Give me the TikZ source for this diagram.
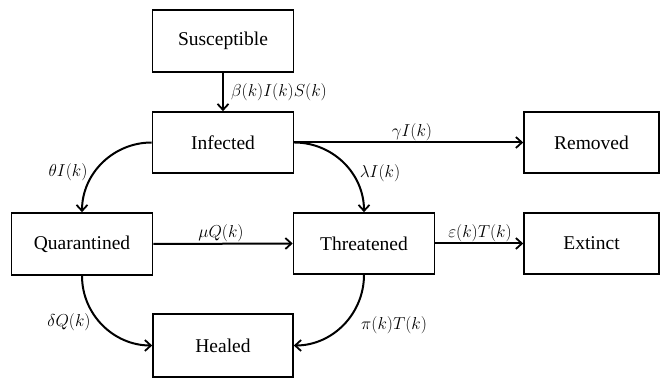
\documentclass[tikz,border=0pt]{standalone}
\usepackage{fontspec}
\setmainfont{Liberation Serif}
\usetikzlibrary{arrows.meta}
\begin{document}
\begin{tikzpicture}[x=1pt,y=1pt,
  box/.style={draw, line width=1.6pt, minimum width=141pt, minimum height=61pt, inner sep=0pt, font=\fontsize{19.5}{23}\selectfont},
  arr/.style={line width=2pt, -{Straight Barb[length=6pt,width=11pt,line width=1.8pt]}},
  lbl/.style={font=\fontsize{16.8}{20}\selectfont, inner sep=0pt}]
\useasboundingbox (0,0) rectangle (661,380);
\node[box, minimum height=62pt] (sus) at (223,339) {Susceptible};
\node[box] (inf) at (223,237.5) {Infected};
\node[box, minimum width=135pt] (rem) at (591.5,237.5) {Removed};
\node[box, minimum height=62pt] (qua) at (82,136) {Quarantined};
\node[box] (thr) at (364,136.5) {Threatened};
\node[box, minimum width=135pt] (ext) at (591.5,136.5) {Extinct};
\node[box, minimum width=140pt, minimum height=63pt] (hea) at (223,34.5) {Healed};

\draw[arr] (sus.south) -- (inf.north);
\draw[arr] (inf.east) -- (rem.west);
\draw[arr] (inf.east) to[out=0,in=90] (thr.north);
\draw[arr] (inf.west) to[out=180,in=90] (qua.north);
\draw[arr] (qua.east) -- (thr.west);
\draw[arr] (thr.east) -- (ext.west);
\draw[arr] (qua.south) to[out=-90,in=180] (hea.west);
\draw[arr] (thr.south) to[out=-90,in=0] (hea.east);

\node[lbl] (lb) at (279,288) {$\beta(k)I(k)S(k)$};
\node[lbl] (lg) at (412,248) {$\gamma I(k)$};
\node[lbl] (ll) at (380,207) {$\lambda I(k)$};
\node[lbl] (lt) at (68,208) {$\theta I(k)$};
\node[lbl] (lm) at (221,147) {$\mu Q(k)$};
\node[lbl] (le) at (480,147) {$\varepsilon(k)T(k)$};
\node[lbl] (ld) at (69,58) {$\delta Q(k)$};
\node[lbl, anchor=west] (lp) at (361,55) {$\pi(k)T(k)$};
\end{tikzpicture}
\end{document}
